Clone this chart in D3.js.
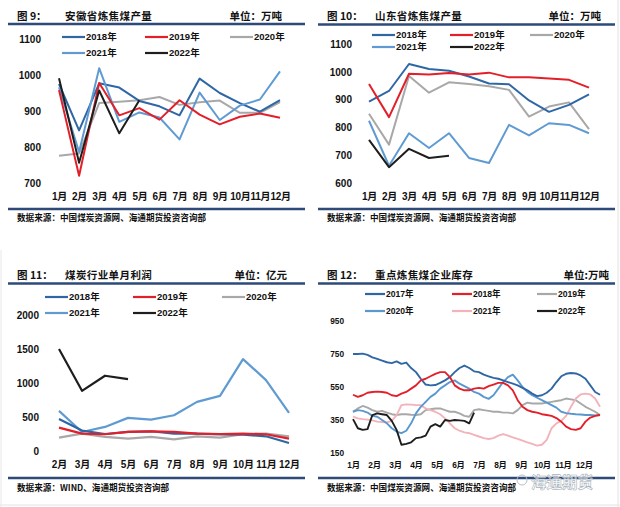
<!DOCTYPE html>
<meta charset="utf-8">
<style>
  body { margin: 0; background: #fff; }
  svg text { font-family: "Liberation Sans", "Noto Sans CJK SC", sans-serif; font-weight: bold; fill: #111; }
  svg .cn { font-family: "Noto Sans CJK SC", sans-serif; }
</style>
<svg width="620" height="507"></svg>
<script src="https://d3js.org/d3.v7.min.js"></script>
<script>
// ---- data ----
var months = ["1月","2月","3月","4月","5月","6月","7月","8月","9月","10月","11月","12月"];
var months2to12 = months.slice(1);
var years5 = ["2018年","2019年","2020年","2021年","2022年"];
var years6 = ["2017年","2018年","2019年","2020年","2021年","2022年"];

// 图9 安徽省炼焦煤产量 (万吨)
var ah2018 = [975, 846, 977, 965, 928, 913, 888, 990, 950, 922, 898, 930];
var ah2019 = [958, 720, 978, 888, 908, 876, 930, 890, 863, 884, 893, 881];
var ah2020 = [776, 782, 922, 926, 930, 939, 917, 924, 929, 895, 895, 925];
var ah2021 = [966, 786, 1019, 870, 896, 882, 821, 951, 875, 915, 932, 1010];
var ah2022 = [991, 756, 957, 838, 930];

// 图10 山东省炼焦煤产量 (万吨)
var sd2018 = [893, 931, 1028, 1010, 1004, 983, 958, 955, 897, 856, 881, 919];
var sd2019 = [956, 837, 993, 990, 996, 990, 997, 980, 980, 976, 971, 943];
var sd2020 = [849, 738, 985, 925, 962, 956, 948, 935, 839, 875, 890, 794];
var sd2021 = [824, 662, 779, 726, 779, 690, 672, 809, 771, 815, 809, 779];
var sd2022 = [755, 657, 723, 690, 698];

// 图11 煤炭行业单月利润 (亿元), 2月-12月
var pr2018 = [472, 300, 250, 280, 290, 255, 255, 245, 240, 216, 118];
var pr2019 = [344, 256, 246, 280, 290, 280, 256, 250, 256, 246, 182];
var pr2020 = [197, 256, 207, 182, 207, 172, 216, 197, 246, 256, 216];
var pr2021 = [590, 280, 354, 487, 462, 526, 723, 811, 1352, 1043, 561];
var pr2022 = [1500, 885, 1107, 1057];

// 图12 重点炼焦煤企业库存 (万吨), weekly
var st2017 = [750,750,752,745,730,720,710,700,695,705,690,698,665,640,600,565,560,562,575,590,610,640,665,680,665,645,640,625,615,605,600,590,580,570,560,545,530,510,495,500,515,540,580,615,630,635,632,620,600,560,520,503];
var st2018 = [503,490,500,515,520,522,520,515,500,495,510,520,540,560,590,600,615,630,640,640,610,560,540,530,530,540,545,540,555,565,575,575,560,530,470,430,410,400,395,385,380,375,362,340,310,295,290,300,340,365,375,380];
var st2019 = [400,420,435,425,410,400,405,395,385,380,385,385,382,380,385,410,415,420,420,410,400,400,390,375,370,410,415,410,405,400,400,395,395,390,410,440,455,450,450,450,455,460,465,470,480,475,470,450,430,415,400,380];
var st2020 = [400,410,405,395,375,370,350,330,300,280,270,285,330,390,430,460,490,510,540,560,580,590,570,555,540,520,510,490,478,500,540,580,610,625,590,550,520,500,485,470,455,440,425,400,392,388,385,383,380,380,378,380];
var st2021 = [370,360,355,352,348,340,338,335,345,380,440,445,443,440,440,420,410,400,385,360,330,300,285,275,270,260,250,240,235,240,255,265,255,245,235,225,215,205,195,200,230,300,330,345,375,430,480,505,510,505,480,430];
var st2022 = [355,300,290,295,380,390,385,380,345,290,200,205,215,240,245,255,310,325,310,350,345,350,348,345,330,395];

// ---- drawing ----
var svg = d3.select("svg");
var navy = "#2d4a78";
var col = { "2017年": "#2f67a5", "2018年": "#2f67a5", "2019年": "#e3202a", "2020年": "#a8a8a8",
            "2021年": "#5f9bd2", "2022年": "#1e1e1e" };
var colP4 = { "2017年": "#2f67a5", "2018年": "#e3202a", "2019年": "#a8a8a8", "2020年": "#5b97cf",
              "2021年": "#f2b3ba", "2022年": "#1e1e1e" };

// light frame lines
svg.append("line").attr("x1", 618).attr("x2", 618).attr("y1", 0).attr("y2", 507).attr("stroke", "#e2e2e2");
svg.append("line").attr("x1", 0).attr("x2", 620).attr("y1", 505).attr("y2", 505).attr("stroke", "#e2e2e2");
svg.append("line").attr("x1", 1).attr("x2", 1).attr("y1", 250).attr("y2", 507).attr("stroke", "#e8e8e8");

function header(x0, yTitle, ySep, no, title, unit, unitX) {
  svg.append("text").attr("class", "cn").attr("x", x0 + 9).attr("y", yTitle)
    .attr("font-size", "10.5px").text("图 " + no + "：");
  svg.append("text").attr("class", "cn").attr("x", x0 + 57).attr("y", yTitle)
    .attr("font-size", "10.5px").attr("letter-spacing", "0.4px").text(title);
  svg.append("text").attr("class", "cn").attr("x", unitX).attr("y", yTitle)
    .attr("text-anchor", "end").attr("font-size", "10.5px").text(unit);
  svg.append("line").attr("x1", x0).attr("x2", x0 + 297).attr("y1", ySep).attr("y2", ySep)
    .attr("stroke", navy).attr("stroke-width", 2.5);
}

function footer(x0, ySep, yText, src) {
  svg.append("line").attr("x1", x0).attr("x2", x0 + 297).attr("y1", ySep).attr("y2", ySep)
    .attr("stroke", navy).attr("stroke-width", 2.5);
  svg.append("text").attr("class", "cn").attr("x", x0 + 9).attr("y", yText)
    .attr("font-size", "8.6px").text(src);
}

function legend(names, colors, xs, ys, len, fs) {
  names.forEach(function (n, i) {
    var lx = xs[i % 3], ly = ys[Math.floor(i / 3)];
    svg.append("line").attr("x1", lx).attr("x2", lx + len).attr("y1", ly).attr("y2", ly)
      .attr("stroke", colors[n]).attr("stroke-width", 2.2);
    svg.append("text").attr("x", lx + len + 1).attr("y", ly + fs * 0.36)
      .attr("font-size", fs + "px").text(n);
  });
}

function axes(x, y, yTicks, xAxisY, yAxisX, fs, xAxisFn, spacing) {
  var gy = svg.append("g").attr("transform", "translate(" + yAxisX + ",0)")
    .call(d3.axisLeft(y).tickValues(yTicks).tickFormat(d3.format("d")).tickSize(0).tickPadding(3));
  var gx = svg.append("g").attr("transform", "translate(0," + xAxisY + ")")
    .call(xAxisFn || d3.axisBottom(x).tickSize(0).tickPadding(3));
  [gx, gy].forEach(function (g) {
    g.select(".domain").remove();
    g.attr("font-family", null).attr("font-size", fs + "px");
    g.selectAll("text").attr("fill", "#111");
  });
  if (spacing) gx.selectAll("text").attr("letter-spacing", spacing);
  return gx;
}

function lines(x, keys, y, seriesList, names, colors, w) {
  var line = d3.line().x(function (d, i) { return x(keys[i]); }).y(function (d) { return y(d); });
  seriesList.forEach(function (s, i) {
    svg.append("path").datum(s).attr("fill", "none").attr("stroke", colors[names[i]])
      .attr("stroke-width", w).attr("stroke-linejoin", "round").attr("d", line);
  });
}

// 图9
(function () {
  var x = d3.scalePoint().domain(months).range([59, 280]);
  var y = d3.scaleLinear().domain([700, 1100]).range([183, 39]);
  header(8, 19.5, 24, "9", "安徽省炼焦煤产量", "单位：万吨", 282);
  axes(x, y, [700, 800, 900, 1000, 1100], 190, 44, 10, null, "-0.3px");
  lines(x, months, y, [ah2020, ah2018, ah2021, ah2019, ah2022], ["2020年","2018年","2021年","2019年","2022年"], col, 2);
  legend(years5, col, [62, 145, 230], [37, 53], 23, 9.5);
  footer(8, 209, 220.5, "数据来源：中国煤炭资源网、海通期货投资咨询部");
})();

// 图10
(function () {
  var x = d3.scalePoint().domain(months).range([369, 589]);
  var y = d3.scaleLinear().domain([600, 1100]).range([183, 44]);
  header(318, 19.5, 24.5, "10", "山东省炼焦煤产量", "单位：万吨", 601);
  axes(x, y, [600, 700, 800, 900, 1000, 1100], 190, 355, 10, null, "-0.3px");
  lines(x, months, y, [sd2020, sd2021, sd2018, sd2019, sd2022], ["2020年","2021年","2018年","2019年","2022年"], col, 2);
  legend(years5, col, [372, 450, 530], [35, 47], 23, 9.5);
  footer(318, 209, 220.5, "数据来源：中国煤炭资源网、海通期货投资咨询部");
})();

// 图11
(function () {
  var x = d3.scalePoint().domain(months2to12).range([59, 289]);
  var y = d3.scaleLinear().domain([0, 2000]).range([451, 315]);
  header(8, 279, 283.5, "11", "煤炭行业单月利润", "单位：亿元", 287);
  axes(x, y, [0, 500, 1000, 1500, 2000], 458, 42, 10);
  lines(x, months2to12, y, [pr2020, pr2021, pr2018, pr2019, pr2022], ["2020年","2021年","2018年","2019年","2022年"], col, 2.2);
  legend(years5, col, [45, 133, 222], [297, 313], 23, 9.5);
  footer(8, 478, 491, "数据来源：WIND、海通期货投资咨询部");
})();

// 图12
(function () {
  var x = d3.scaleLinear().domain([0, 51]).range([353, 600]);
  var y = d3.scaleLinear().domain([150, 950]).range([453, 321]);
  header(318, 279, 283.5, "12", "重点炼焦煤企业库存", "单位:万吨", 609);
  var xAxis = d3.axisBottom(x).tickValues(d3.range(12).map(function (m) { return m * 52 / 12; }))
    .tickFormat(function (d, i) { return months[i]; }).tickSize(0).tickPadding(3);
  axes(x, y, [150, 350, 550, 750, 950], 459, 347, 8.3, xAxis, "-0.3px");
  var weekLine = d3.line().x(function (d, i) { return x(i); }).y(function (d) { return y(d); });
  var order = [[st2019, "2019年"], [st2021, "2021年"], [st2020, "2020年"], [st2017, "2017年"], [st2018, "2018年"], [st2022, "2022年"]];
  order.forEach(function (o) {
    svg.append("path").datum(o[0]).attr("fill", "none").attr("stroke", colP4[o[1]])
      .attr("stroke-width", 1.9).attr("stroke-linejoin", "round").attr("d", weekLine);
  });
  legend(years6, colP4, [365, 452, 537], [294, 311], 20, 8.6);
  footer(318, 478, 491, "数据来源：中国煤炭资源网、海通期货投资咨询部");
  // watermark
  svg.append("circle").attr("cx", 522).attr("cy", 480).attr("r", 5).attr("fill", "none")
    .attr("stroke", "#b8c0c8").attr("stroke-width", 1);
  svg.append("text").attr("class", "cn").attr("x", 531).attr("y", 488)
    .attr("font-size", "15.5px").attr("font-weight", "normal")
    .style("fill", "rgba(255,255,255,0.6)").attr("stroke", "#a9b2bb").attr("stroke-width", 0.6)
    .text("海通期货");
})();
</script>
